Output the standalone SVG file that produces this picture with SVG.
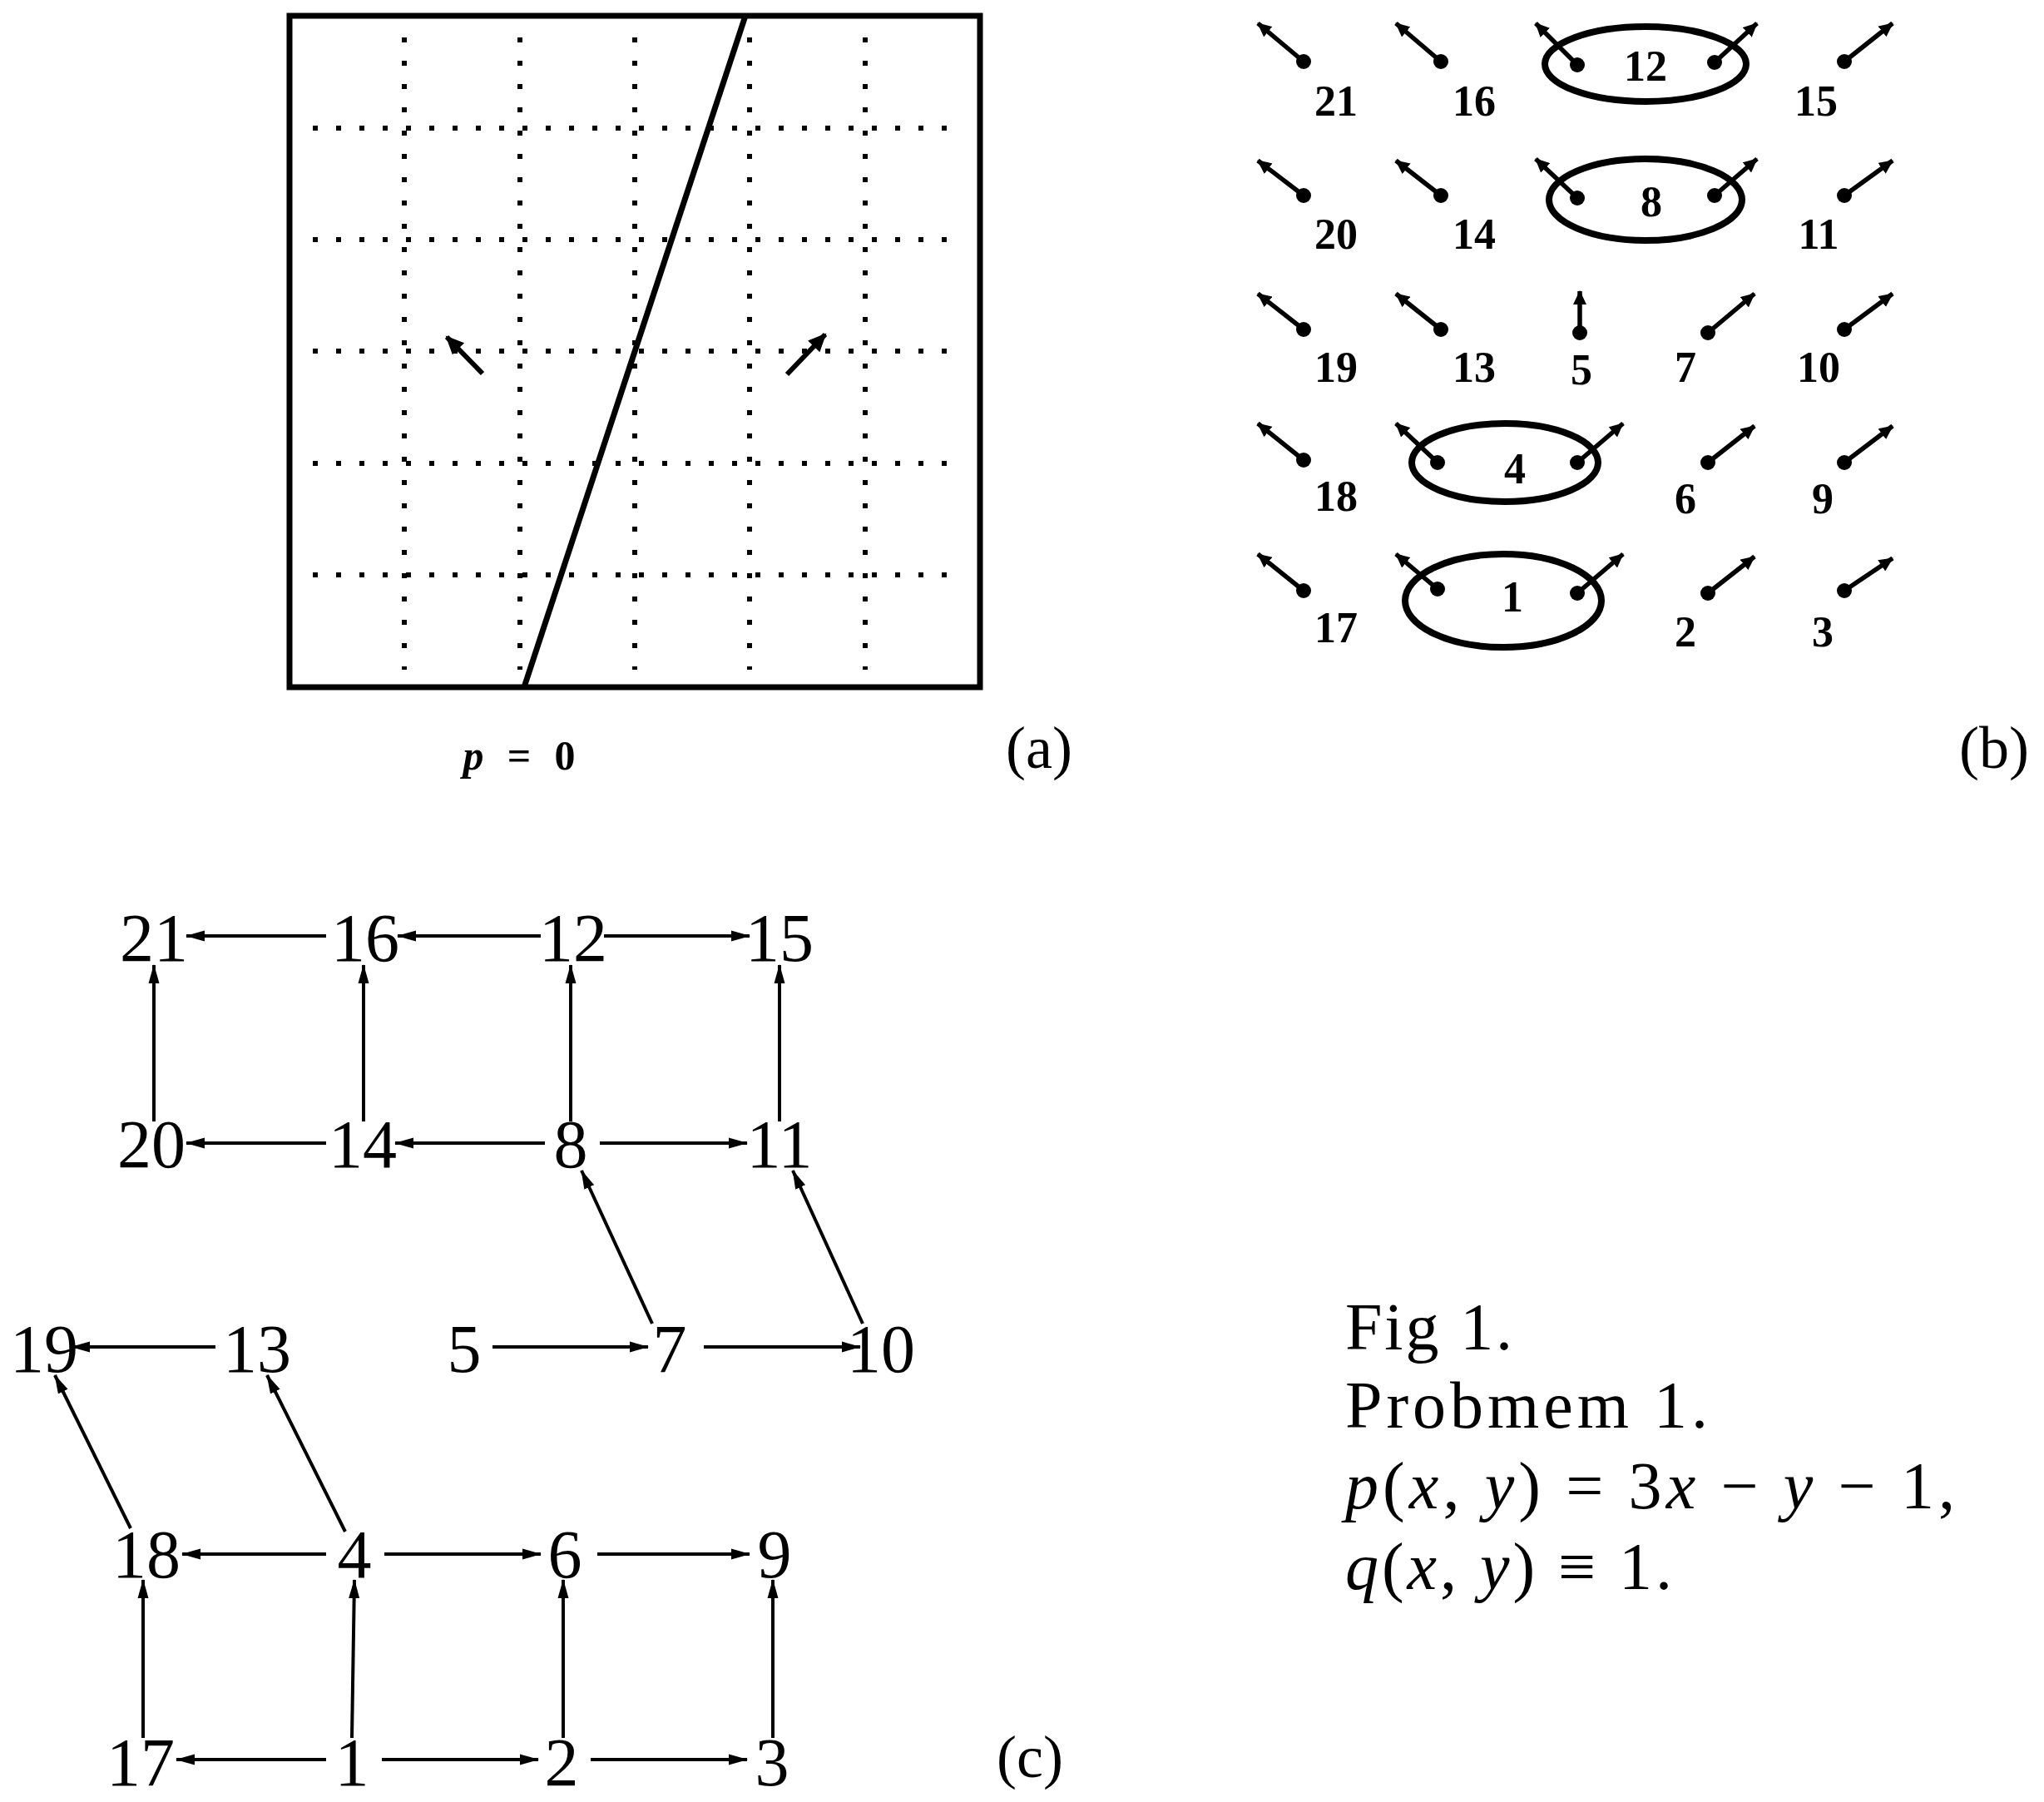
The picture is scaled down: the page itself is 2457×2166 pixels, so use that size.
<svg xmlns="http://www.w3.org/2000/svg" width="2457" height="2166" viewBox="0 0 2457 2166">
<style>
.bg{fill:#fff}
.box{fill:none;stroke:#000;stroke-width:7}
.grid{fill:none;stroke:#000;stroke-width:6;stroke-dasharray:6 22}
.thick{fill:none;stroke:#000;stroke-width:7}
.va{fill:none;stroke:#000;stroke-width:6}
.vb{fill:none;stroke:#000;stroke-width:5.5}
.ell{fill:none;stroke:#000;stroke-width:8}
.dot{fill:#000}
.lb{font-family:"Liberation Serif",serif;font-weight:bold;font-size:52px;text-anchor:middle;fill:#000}
.nc{font-family:"Liberation Serif",serif;font-size:82px;text-anchor:middle;fill:#000}
.cap{font-family:"Liberation Serif",serif;font-size:72px;text-anchor:middle;fill:#000}
.tx{font-family:"Liberation Serif",serif;font-size:80px;fill:#000}
.it{font-style:italic}
.ec{fill:none;stroke:#000;stroke-width:4;marker-end:url(#ah)}
</style>
<defs>
<marker id="ah" markerUnits="userSpaceOnUse" markerWidth="24" markerHeight="16" refX="22" refY="8" orient="auto">
<path d="M0,1.5 L23,8 L0,14.5 z" fill="#000"/>
</marker>
<marker id="hb" markerUnits="userSpaceOnUse" markerWidth="18" markerHeight="16" refX="16" refY="8" orient="auto">
<path d="M0,0 L17,8 L0,16 z" fill="#000"/>
</marker>
<marker id="ha" markerUnits="userSpaceOnUse" markerWidth="24" markerHeight="22" refX="20" refY="11" orient="auto">
<path d="M0,1 L22,11 L0,21 z" fill="#000"/>
</marker>
</defs>
<rect class="bg" x="0" y="0" width="2457" height="2166"/>

<!-- Panel (a) -->
<g id="panel-a">
<rect class="box" x="348" y="19" width="830" height="807"/>
<g class="grid">
<line x1="486" y1="45" x2="486" y2="805"/>
<line x1="625" y1="45" x2="625" y2="805"/>
<line x1="763" y1="45" x2="763" y2="805"/>
<line x1="901" y1="45" x2="901" y2="805"/>
<line x1="1040" y1="45" x2="1040" y2="805"/>
<line x1="376" y1="154" x2="1155" y2="154"/>
<line x1="376" y1="288" x2="1155" y2="288"/>
<line x1="376" y1="422" x2="1155" y2="422"/>
<line x1="376" y1="557" x2="1155" y2="557"/>
<line x1="376" y1="691" x2="1155" y2="691"/>
</g>
<line class="thick" x1="896" y1="19" x2="630" y2="826"/>
<line class="va" x1="580" y1="449" x2="537" y2="405" marker-end="url(#ha)"/>
<line class="va" x1="946" y1="450" x2="992" y2="402" marker-end="url(#ha)"/>
<text x="624" y="925" font-family="Liberation Serif, serif" font-weight="bold" font-size="50" text-anchor="middle" textLength="135" lengthAdjust="spacing"><tspan font-style="italic">p</tspan>=0</text>
<text class="cap" x="1249" y="923">(a)</text>
</g>

<!-- Panel (b) -->
<g id="panel-b">
<g id="b21"><line class="vb" x1="1567" y1="74" x2="1512" y2="28" marker-end="url(#hb)"/><circle class="dot" cx="1567" cy="74" r="9"/><text class="lb" x="1606" y="139">21</text></g>
<g id="b16"><line class="vb" x1="1732" y1="74" x2="1678" y2="28" marker-end="url(#hb)"/><circle class="dot" cx="1732" cy="74" r="9"/><text class="lb" x="1772" y="139">16</text></g>
<g id="b12"><ellipse class="ell" cx="1978" cy="77" rx="121" ry="45"/><line class="vb" x1="1896" y1="78" x2="1846" y2="28" marker-end="url(#hb)"/><line class="vb" x1="2061" y1="75" x2="2112" y2="28" marker-end="url(#hb)"/><circle class="dot" cx="1896" cy="78" r="9"/><circle class="dot" cx="2061" cy="75" r="9"/><text class="lb" x="1978" y="97">12</text></g>
<g id="b15"><line class="vb" x1="2217" y1="74" x2="2275" y2="28" marker-end="url(#hb)"/><circle class="dot" cx="2217" cy="74" r="9"/><text class="lb" x="2183" y="139">15</text></g>

<g id="b20"><line class="vb" x1="1567" y1="235" x2="1512" y2="193" marker-end="url(#hb)"/><circle class="dot" cx="1567" cy="235" r="9"/><text class="lb" x="1606" y="299">20</text></g>
<g id="b14"><line class="vb" x1="1732" y1="235" x2="1678" y2="193" marker-end="url(#hb)"/><circle class="dot" cx="1732" cy="235" r="9"/><text class="lb" x="1772" y="299">14</text></g>
<g id="b8"><ellipse class="ell" cx="1978" cy="240" rx="116" ry="49"/><line class="vb" x1="1896" y1="238" x2="1846" y2="191" marker-end="url(#hb)"/><line class="vb" x1="2061" y1="235" x2="2112" y2="191" marker-end="url(#hb)"/><circle class="dot" cx="1896" cy="238" r="9"/><circle class="dot" cx="2061" cy="235" r="9"/><text class="lb" x="1985" y="260">8</text></g>
<g id="b11"><line class="vb" x1="2217" y1="235" x2="2275" y2="193" marker-end="url(#hb)"/><circle class="dot" cx="2217" cy="235" r="9"/><text class="lb" x="2186" y="299">11</text></g>

<g id="b19"><line class="vb" x1="1567" y1="396" x2="1512" y2="353" marker-end="url(#hb)"/><circle class="dot" cx="1567" cy="396" r="9"/><text class="lb" x="1606" y="459">19</text></g>
<g id="b13"><line class="vb" x1="1732" y1="396" x2="1678" y2="353" marker-end="url(#hb)"/><circle class="dot" cx="1732" cy="396" r="9"/><text class="lb" x="1772" y="459">13</text></g>
<g id="b5"><line class="vb" x1="1899" y1="400" x2="1899" y2="350" marker-end="url(#hb)"/><circle class="dot" cx="1899" cy="400" r="9"/><text class="lb" x="1901" y="462">5</text></g>
<g id="b7"><line class="vb" x1="2053" y1="400" x2="2109" y2="353" marker-end="url(#hb)"/><circle class="dot" cx="2053" cy="400" r="9"/><text class="lb" x="2026" y="459">7</text></g>
<g id="b10"><line class="vb" x1="2217" y1="396" x2="2275" y2="353" marker-end="url(#hb)"/><circle class="dot" cx="2217" cy="396" r="9"/><text class="lb" x="2186" y="459">10</text></g>

<g id="b18"><line class="vb" x1="1567" y1="553" x2="1512" y2="509" marker-end="url(#hb)"/><circle class="dot" cx="1567" cy="553" r="9"/><text class="lb" x="1606" y="614">18</text></g>
<g id="b4"><ellipse class="ell" cx="1809" cy="556" rx="112" ry="47"/><line class="vb" x1="1728" y1="556" x2="1678" y2="509" marker-end="url(#hb)"/><line class="vb" x1="1896" y1="556" x2="1951" y2="509" marker-end="url(#hb)"/><circle class="dot" cx="1728" cy="556" r="9"/><circle class="dot" cx="1896" cy="556" r="9"/><text class="lb" x="1821" y="581">4</text></g>
<g id="b6"><line class="vb" x1="2053" y1="556" x2="2109" y2="512" marker-end="url(#hb)"/><circle class="dot" cx="2053" cy="556" r="9"/><text class="lb" x="2026" y="617">6</text></g>
<g id="b9"><line class="vb" x1="2217" y1="556" x2="2275" y2="512" marker-end="url(#hb)"/><circle class="dot" cx="2217" cy="556" r="9"/><text class="lb" x="2191" y="617">9</text></g>

<g id="b17"><line class="vb" x1="1567" y1="710" x2="1512" y2="666" marker-end="url(#hb)"/><circle class="dot" cx="1567" cy="710" r="9"/><text class="lb" x="1606" y="772">17</text></g>
<g id="b1"><ellipse class="ell" cx="1807" cy="722" rx="118" ry="56"/><line class="vb" x1="1728" y1="708" x2="1678" y2="666" marker-end="url(#hb)"/><line class="vb" x1="1896" y1="713" x2="1951" y2="666" marker-end="url(#hb)"/><circle class="dot" cx="1728" cy="708" r="9"/><circle class="dot" cx="1896" cy="713" r="9"/><text class="lb" x="1818" y="735">1</text></g>
<g id="b2"><line class="vb" x1="2053" y1="713" x2="2109" y2="669" marker-end="url(#hb)"/><circle class="dot" cx="2053" cy="713" r="9"/><text class="lb" x="2026" y="777">2</text></g>
<g id="b3"><line class="vb" x1="2217" y1="710" x2="2275" y2="671" marker-end="url(#hb)"/><circle class="dot" cx="2217" cy="710" r="9"/><text class="lb" x="2191" y="777">3</text></g>
<text class="cap" x="2397" y="923">(b)</text>
</g>

<!-- Panel (c) -->
<g id="connectors">
<line class="ec" x1="392" y1="1125" x2="224" y2="1125"/>
<line class="ec" x1="650" y1="1125" x2="478" y2="1125"/>
<line class="ec" x1="726" y1="1125" x2="901" y2="1125"/>
<line class="ec" x1="185" y1="1348" x2="185" y2="1160"/>
<line class="ec" x1="437" y1="1348" x2="437" y2="1160"/>
<line class="ec" x1="686" y1="1348" x2="686" y2="1160"/>
<line class="ec" x1="937" y1="1348" x2="937" y2="1160"/>
<line class="ec" x1="392" y1="1374" x2="224" y2="1374"/>
<line class="ec" x1="655" y1="1374" x2="475" y2="1374"/>
<line class="ec" x1="721" y1="1374" x2="898" y2="1374"/>
<line class="ec" x1="784" y1="1591" x2="699" y2="1407"/>
<line class="ec" x1="1037" y1="1591" x2="953" y2="1407"/>
<line class="ec" x1="259" y1="1619" x2="86" y2="1619"/>
<line class="ec" x1="592" y1="1619" x2="779" y2="1619"/>
<line class="ec" x1="846" y1="1619" x2="1034" y2="1619"/>
<line class="ec" x1="157" y1="1837" x2="66" y2="1653"/>
<line class="ec" x1="415" y1="1841" x2="321" y2="1653"/>
<line class="ec" x1="392" y1="1868" x2="219" y2="1868"/>
<line class="ec" x1="462" y1="1868" x2="650" y2="1868"/>
<line class="ec" x1="718" y1="1868" x2="901" y2="1868"/>
<line class="ec" x1="172" y1="2089" x2="172" y2="1899"/>
<line class="ec" x1="423" y1="2089" x2="426" y2="1899"/>
<line class="ec" x1="677" y1="2089" x2="677" y2="1899"/>
<line class="ec" x1="929" y1="2089" x2="929" y2="1899"/>
<line class="ec" x1="392" y1="2115" x2="212" y2="2115"/>
<line class="ec" x1="459" y1="2115" x2="647" y2="2115"/>
<line class="ec" x1="710" y1="2115" x2="898" y2="2115"/>
</g>
<g id="c21"><text class="nc" x="185" y="1155">21</text></g>
<g id="c16"><text class="nc" x="439" y="1155">16</text></g>
<g id="c12"><text class="nc" x="689" y="1155">12</text></g>
<g id="c15"><text class="nc" x="937" y="1155">15</text></g>
<g id="c20"><text class="nc" x="182" y="1403">20</text></g>
<g id="c14"><text class="nc" x="436" y="1403">14</text></g>
<g id="c8"><text class="nc" x="686" y="1403">8</text></g>
<g id="c11"><text class="nc" x="937" y="1403">11</text></g>
<g id="c19"><text class="nc" x="53" y="1649">19</text></g>
<g id="c13"><text class="nc" x="309" y="1649">13</text></g>
<g id="c5"><text class="nc" x="558" y="1649">5</text></g>
<g id="c7"><text class="nc" x="805" y="1649">7</text></g>
<g id="c10"><text class="nc" x="1059" y="1649">10</text></g>
<g id="c18"><text class="nc" x="176" y="1896">18</text></g>
<g id="c4"><text class="nc" x="426" y="1896">4</text></g>
<g id="c6"><text class="nc" x="679" y="1896">6</text></g>
<g id="c9"><text class="nc" x="931" y="1896">9</text></g>
<g id="c17"><text class="nc" x="169" y="2146">17</text></g>
<g id="c1"><text class="nc" x="423" y="2146">1</text></g>
<g id="c2"><text class="nc" x="675" y="2146">2</text></g>
<g id="c3"><text class="nc" x="928" y="2146">3</text></g>
<text class="cap" x="1238" y="2136">(c)</text>

<!-- Caption -->
<g id="caption">
<text class="tx" x="1617" y="1622" textLength="201" lengthAdjust="spacing">Fig 1.</text>
<text class="tx" x="1617" y="1716" textLength="436" lengthAdjust="spacing">Probmem 1.</text>
<text class="tx" x="1617" y="1813" textLength="733" lengthAdjust="spacing"><tspan class="it">p</tspan>(<tspan class="it">x</tspan>, <tspan class="it">y</tspan>) = 3<tspan class="it">x</tspan> − <tspan class="it">y</tspan> − 1,</text>
<text class="tx" x="1617" y="1910" textLength="393" lengthAdjust="spacing"><tspan class="it">q</tspan>(<tspan class="it">x</tspan>, <tspan class="it">y</tspan>) ≡ 1.</text>
</g>
</svg>
